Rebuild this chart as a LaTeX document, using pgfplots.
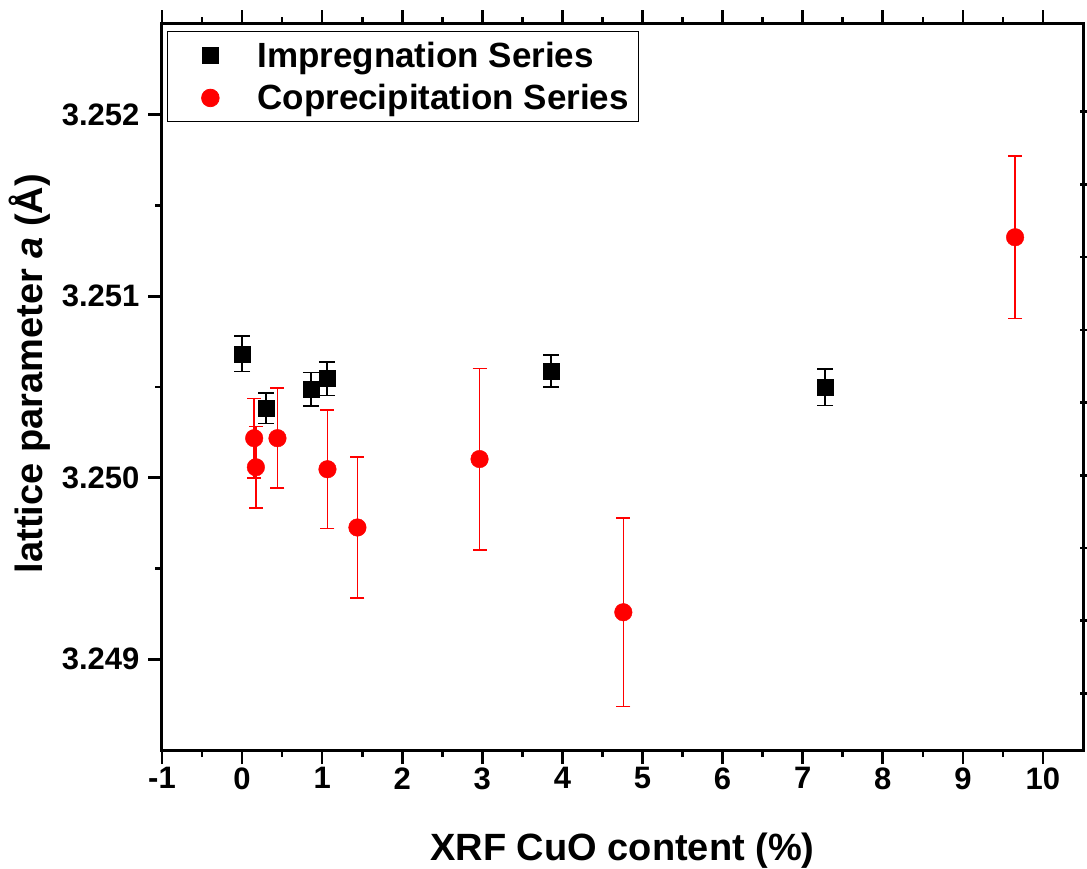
\documentclass[border=0pt]{standalone}
\usepackage{fontspec}
\setmainfont{Liberation Sans}
\usepackage{pgfplots}
\pgfplotsset{compat=1.18}
\begin{document}
\begin{tikzpicture}
\path[use as bounding box] (-162pt,-118pt) rectangle (925pt,750pt);
\begin{axis}[
  at={(0pt,0pt)}, anchor=south west,
  scale only axis, width=921pt, height=726pt,
  xmin=-1, xmax=10.5, ymin=3.2485, ymax=3.2525,
  xtick={-1,0,...,10}, ytick={3.249,3.250,3.251,3.252},
  minor x tick num=1, minor y tick num=1,
  xtick pos=both, ytick pos=left, tick align=outside,
  major tick length=14pt, minor tick length=7pt,
  axis line style={line width=3pt},
  every tick/.style={line width=2.6pt, black},
  /pgf/number format/assume math mode=true,
  yticklabel style={xshift=-5pt, /pgf/number format/.cd, fixed, fixed zerofill, precision=3},
  tick label style={font=\fontsize{31}{37}\selectfont\bfseries},
  xlabel={XRF CuO content (\%)},
  ylabel={lattice parameter \textit{a} (Å)},
  label style={font=\fontsize{38}{44}\selectfont\bfseries},
  xlabel style={at={(rel axis cs:0.5,-0.138)}, anchor=center},
  ylabel style={at={(rel axis cs:-0.144,0.5186)}, anchor=center},
  legend cell align=left,
  legend image code/.code={\path[draw=none,fill=none] (0pt,-6pt) rectangle (80pt,6pt);
    \path[draw=none,fill=none] plot[only marks] coordinates {(35pt,0pt)};},
  legend style={at={(rel axis cs:0.0054,0.990)}, anchor=north west,
    draw=black, line width=0.8pt, inner xsep=8pt, inner ysep=8pt,
    font=\fontsize{35}{41}\selectfont\bfseries, row sep=12pt},
]
\addplot[only marks, mark=square*, mark size=8pt,
  mark options={draw=black, fill=black},
  error bars/.cd, y dir=both, y explicit,
  error bar style={line width=1.8pt, draw=black},
  error mark options={rotate=90, mark size=8pt, line width=1.8pt, draw=black}]
coordinates {
 (0.00, 3.250682) +- (0, 0.000097)
 (0.30, 3.250382) +- (0, 0.000083)
 (0.86, 3.250487) +- (0, 0.000093)
 (1.06, 3.250546) +- (0, 0.000093)
 (3.86, 3.250588) +- (0, 0.000090)
 (7.28, 3.250498) +- (0, 0.000100)
};
\addlegendentry{Impregnation Series}
\addplot[only marks, mark=*, mark size=8.8pt,
  mark options={draw=red, fill=red},
  error bars/.cd, y dir=both, y explicit,
  error bar style={line width=1.5pt, draw=red},
  error mark options={rotate=90, mark size=7pt, line width=1.5pt, draw=red}]
coordinates {
 (0.151, 3.250218) +- (0, 0.000220)
 (0.172, 3.250058) +- (0, 0.000225)
 (0.442, 3.250218) +- (0, 0.000276)
 (1.066, 3.250047) +- (0, 0.000327)
 (1.440, 3.249726) +- (0, 0.000388)
 (2.965, 3.250103) +- (0, 0.000500)
 (4.760, 3.249259) +- (0, 0.000520)
 (9.652, 3.251325) +- (0, 0.000447)
};
\addlegendentry{Coprecipitation Series}
\end{axis}
\begin{axis}[
  at={(0pt,0pt)}, anchor=south west,
  scale only axis, width=921pt, height=726pt,
  xmin=-1, xmax=10.5, ymin=3.2485, ymax=3.2525,
  axis line style={draw=none}, xtick=\empty,
  ytick={3.248812,3.249213,3.249614,3.250014,3.250415,3.250815,3.251216,3.251616,3.252017},
  yticklabels={}, ytick pos=right, tick align=center,
  major tick length=7pt, every tick/.style={line width=2.6pt, black},
]
\addplot[draw=none] coordinates {(0,3.25)};
\end{axis}
\end{tikzpicture}
\end{document}
